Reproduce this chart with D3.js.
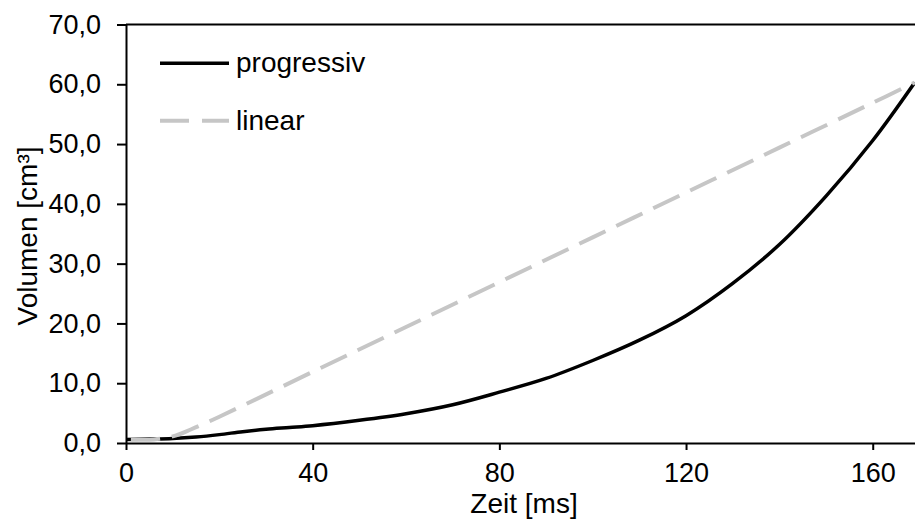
<!DOCTYPE html>
<html>
<head>
<meta charset="utf-8">
<script src="https://cdn.jsdelivr.net/npm/d3@7"></script>
<style>
    body { margin: 0; background: #fff; }
    svg { display: block; font-family: "Liberation Sans", Arial, sans-serif; }
</style>
</head>
<body>
<div id="chart"></div>
<script>
// time values (ms) and volume values (cm³)
const progTime = [0, 5, 10, 15, 20, 25, 30, 35, 40, 50, 60, 70, 80, 90, 100, 110, 120, 130, 140, 150, 160, 169];
const progVol  = [0.6, 0.65, 0.75, 1.0, 1.4, 1.9, 2.3, 2.6, 2.9, 3.8, 4.9, 6.4, 8.5, 10.8, 13.8, 17.2, 21.3, 26.7, 33.2, 41.3, 50.6, 60.3];

const linTime = [0, 6, 10, 14, 20, 40, 60, 80, 100, 120, 140, 160, 169];
const linVol  = [0.6, 0.6, 1.1, 2.3, 4.4, 11.9, 19.4, 26.9, 34.4, 41.9, 49.4, 56.9, 60.3];

const xTicks = [0, 40, 80, 120, 160];
const yTicks = [0, 10, 20, 30, 40, 50, 60, 70];

const seriesNames = ["progressiv", "linear"];

const width = 915, height = 520;
const margin = { left: 126, top: 24.5, bottom: 77 };

let svg = d3.select("#chart")
    .append("svg")
    .attr("width", width)
    .attr("height", height);

// x scale runs a little past the right edge of the picture
let x = d3.scaleLinear()
    .domain([0, 170])
    .range([margin.left, margin.left + 170 * 4.667]);

let y = d3.scaleLinear()
    .domain([0, 70])
    .range([height - margin.bottom, margin.top]);

// German number format: comma as decimal mark
let de = d3.formatLocale({ decimal: ",", thousands: ".", grouping: [3], currency: ["", " €"] });

let fontSize = 28;
let tickFont = 27;

// x axis
let xAxis = svg.append("g")
    .attr("transform", "translate(0," + y(0) + ")")
    .call(d3.axisBottom(x).tickValues(xTicks).tickSize(7).tickPadding(13).tickSizeOuter(0));

// y axis
let yAxis = svg.append("g")
    .attr("transform", "translate(" + x(0) + ",0)")
    .call(d3.axisLeft(y).tickValues(yTicks).tickSize(9).tickPadding(16).tickSizeOuter(0).tickFormat(de.format(".1f")));

[xAxis, yAxis].forEach(function (a) {
    a.select(".domain").attr("stroke", "#000").attr("stroke-width", 2);
    a.selectAll(".tick line").attr("stroke", "#000").attr("stroke-width", 2);
    a.selectAll(".tick text")
        .attr("fill", "#000")
        .attr("font-size", tickFont)
        .attr("font-family", "Liberation Sans, Arial, sans-serif");
});

// top border of the plot area
svg.append("line")
    .attr("x1", x(0))
    .attr("x2", width)
    .attr("y1", y(70))
    .attr("y2", y(70))
    .attr("stroke", "#000")
    .attr("stroke-width", 2);

let line = d3.line()
    .x(function (d) { return x(d[0]) })
    .y(function (d) { return y(d[1]) })
    .curve(d3.curveCatmullRom.alpha(0.5));

let progData = progTime.map(function (t, i) { return [t, progVol[i]] });
let linData = linTime.map(function (t, i) { return [t, linVol[i]] });

svg.append("path")
    .datum(progData)
    .attr("d", line)
    .attr("fill", "none")
    .attr("stroke", "#000")
    .attr("stroke-width", 3.5);

svg.append("path")
    .datum(linData)
    .attr("d", line)
    .attr("fill", "none")
    .attr("stroke", "#c6c6c6")
    .attr("stroke-width", 4)
    .attr("stroke-dasharray", "29,12")
    .attr("stroke-dashoffset", -5);

// legend
let legend = svg.append("g");
let legendStyles = [
    { stroke: "#000", width: 3.5, dash: null },
    { stroke: "#c6c6c6", width: 4, dash: "29,13" }
];
seriesNames.forEach(function (name, i) {
    let ly = 63.3 + i * 57.4;
    legend.append("line")
        .attr("x1", 160)
        .attr("x2", 229)
        .attr("y1", ly)
        .attr("y2", ly)
        .attr("stroke", legendStyles[i].stroke)
        .attr("stroke-width", legendStyles[i].width)
        .attr("stroke-dasharray", legendStyles[i].dash);
    legend.append("text")
        .attr("x", 236)
        .attr("y", ly + 9)
        .attr("font-size", fontSize)
        .attr("fill", "#000")
        .text(name);
});

// axis titles
svg.append("text")
    .attr("x", 524)
    .attr("y", 513)
    .attr("text-anchor", "middle")
    .attr("font-size", fontSize)
    .text("Zeit [ms]");

svg.append("text")
    .attr("transform", "translate(37," + 236 + ") rotate(-90)")
    .attr("text-anchor", "middle")
    .attr("font-size", fontSize)
    .text("Volumen [cm³]");
</script>
</body>
</html>
